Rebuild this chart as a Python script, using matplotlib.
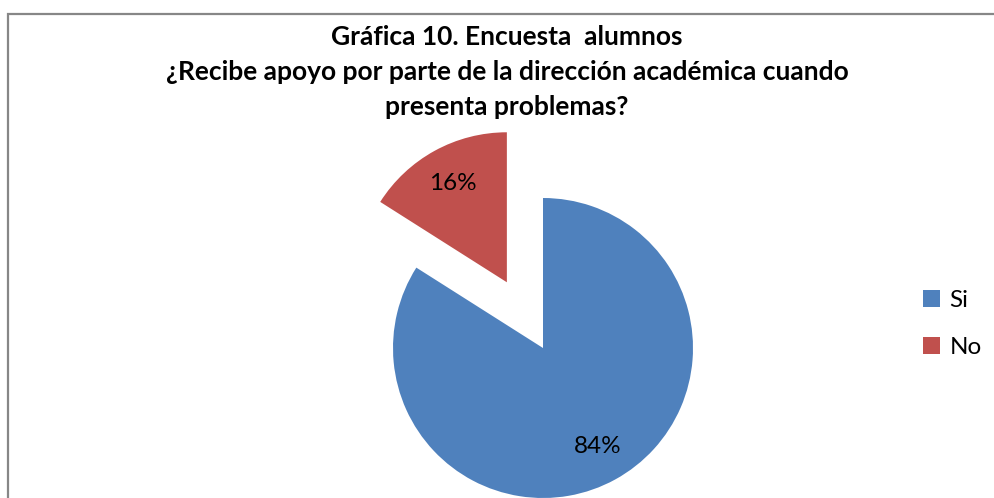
import matplotlib.pyplot as plt

# Survey answers (percent)
labels = ['Si', 'No']
values = [84, 16]
colors = ['#4F81BD', '#C0504D']
title_lines = ['Gráfica 10. Encuesta  alumnos',
               '¿Recibe apoyo por parte de la dirección académica cuando',
               'presenta problemas?']

W, H = 995, 498
fig = plt.figure(figsize=(W / 100, H / 100), dpi=100)
ax = fig.add_axes([0, 0, 1, 1])

# pie laid out directly in pixel units (y up)
wedges, texts, autotexts = ax.pie(
    values, colors=colors, startangle=90, counterclock=False,
    center=(543, H - 348), radius=150, explode=[0, 75],
    autopct='%1.0f%%', pctdistance=0.75,
    textprops={'fontsize': 17.5, 'family': 'Lato', 'color': 'black'})

ax.set_xlim(0, W)
ax.set_ylim(0, H)
ax.set_aspect('auto')
ax.axis('off')

# chart frame (only top and left edges are inside the picture)
ax.plot([8, 8, W], [0, H - 14, H - 14], color='#878787', lw=1.6,
        solid_joinstyle='miter')

ax.text(507, H - 72, '\n'.join(title_lines), ha='center', va='center',
        fontsize=19, fontweight='bold', family='Lato', linespacing=1.55)

ax.legend(wedges, labels, loc='center left', bbox_to_anchor=(901 / W, (H - 324) / H),
          frameon=False, prop={'family': 'Lato', 'size': 17.5},
          handlelength=0.7, handleheight=0.7, handletextpad=0.4,
          labelspacing=1.05)

fig.savefig('out.png', dpi=100)
